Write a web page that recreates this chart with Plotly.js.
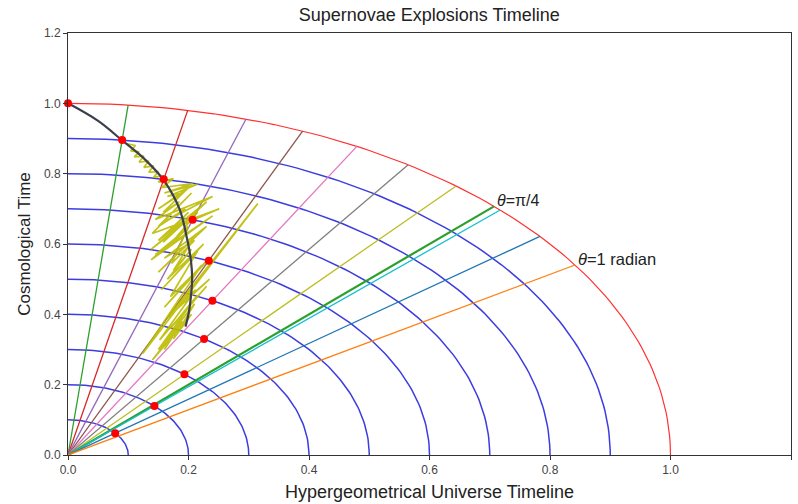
<!DOCTYPE html>
<html>
<head>
<meta charset="utf-8">
<script src="https://cdn.plot.ly/plotly-3.0.1.min.js"></script>
<style>html,body{margin:0;padding:0;background:#fff;}#chart{width:798px;height:504px;}</style>
</head>
<body>
<div id="chart"></div>
<script>
// ---- data ----
const circleRadii = [0.1, 0.2, 0.3, 0.4, 0.5, 0.6, 0.7, 0.8, 0.9];
const outerRadius = 1.0;
const rayAngles = [0.1, 0.2, 0.3, 0.4, 0.5, 0.6, 0.7, Math.PI / 4, 0.8, 0.9, 1.0];
const rayColors = ['#2ca02c', '#d62728', '#9467bd', '#8c564b', '#e377c2', '#7f7f7f', '#bcbd22', '#2ca02c', '#17becf', '#1f77b4', '#ff7f0e'];
const rayWidths = [1.3, 1.3, 1.3, 1.3, 1.3, 1.3, 1.3, 2.2, 1.3, 1.3, 1.3];
// red dots: (radius, angle from the vertical axis)
const dotRadii = [1.0, 0.9, 0.8, 0.7, 0.6, 0.5, 0.4, 0.3, 0.2, 0.1];
const dotAngles = [0.0, 0.1, 0.2, 0.3, 0.4, 0.5, 0.6, 0.7, 0.8, 0.9];
// dark timeline curve
const curveX = [0.000, 0.050, 0.091, 0.128, 0.159, 0.185, 0.197, 0.204, 0.206, 0.204, 0.200, 0.195];
const curveY = [1.000, 0.950, 0.893, 0.840, 0.781, 0.700, 0.620, 0.554, 0.500, 0.450, 0.400, 0.365];
// olive scatter path
const oliveX = [0.098,0.112,0.104,0.118,0.110,0.126,0.118,0.134,0.126,0.142,0.134,0.150,0.142,0.160,0.150,0.175,0.155,0.207,0.160,0.215,
                0.165,0.190,0.150,0.200,0.158,0.185,0.145,0.240,0.162,0.195,0.150,0.205,0.140,0.251,0.170,0.200,0.150,0.230,0.158,0.190,
                0.138,0.215,0.165,0.195,0.145,0.240,0.138,0.200,0.172,0.210,0.160,0.230,0.150,0.210,0.175,0.205,
                0.165,0.225,0.155,0.215,0.170,0.235,0.160,0.222,0.124,0.315,0.165,0.235,0.175,0.212,0.152,0.230,0.170,0.215,0.150,0.210,
                0.175,0.205,0.140,0.190,0.160];
const oliveY = [0.885,0.880,0.865,0.862,0.848,0.850,0.833,0.836,0.818,0.822,0.804,0.806,0.790,0.794,0.776,0.786,0.760,0.772,0.745,0.770,
                0.735,0.745,0.700,0.760,0.690,0.720,0.670,0.735,0.665,0.700,0.650,0.745,0.630,0.700,0.640,0.690,0.610,0.720,0.605,0.660,
                0.585,0.690,0.590,0.640,0.570,0.680,0.555,0.650,0.545,0.610,0.560,0.650,0.520,0.620,0.525,0.585,
                0.500,0.600,0.470,0.580,0.450,0.560,0.420,0.540,0.289,0.715,0.390,0.500,0.410,0.470,0.327,0.480,0.360,0.455,0.300,0.430,
                0.330,0.400,0.270,0.380,0.300];
const xTicks = [0.0, 0.2, 0.4, 0.6, 0.8, 1.0, 1.2];
const yTicks = [0.0, 0.2, 0.4, 0.6, 0.8, 1.0, 1.2];

// ---- traces ----
const traces = [];
function arc(r) {
  const xs = [], ys = [];
  for (let i = 0; i <= 90; i++) {
    const t = (Math.PI / 2) * i / 90;
    xs.push(r * Math.sin(t)); ys.push(r * Math.cos(t));
  }
  return {xs, ys};
}
circleRadii.forEach(r => {
  const a = arc(r);
  traces.push({x: a.xs, y: a.ys, mode: 'lines', line: {color: '#3c3ce0', width: 1.5}, hoverinfo: 'skip'});
});
{
  const a = arc(outerRadius);
  traces.push({x: a.xs, y: a.ys, mode: 'lines', line: {color: '#ff3030', width: 1.2}, hoverinfo: 'skip'});
}
rayAngles.forEach((t, i) => {
  traces.push({x: [0, outerRadius * Math.sin(t)], y: [0, outerRadius * Math.cos(t)], mode: 'lines',
    line: {color: rayColors[i], width: rayWidths[i]}, hoverinfo: 'skip'});
});
traces.push({x: oliveX, y: oliveY, mode: 'lines', line: {color: '#bcbc00', width: 1.7}, opacity: 0.9, hoverinfo: 'skip'});
traces.push({x: curveX, y: curveY, mode: 'lines', line: {color: '#3b404c', width: 2.2, shape: 'spline'}, hoverinfo: 'skip'});
traces.push({x: dotRadii.map((r, i) => r * Math.sin(dotAngles[i])), y: dotRadii.map((r, i) => r * Math.cos(dotAngles[i])),
  mode: 'markers', marker: {color: '#ff0000', size: 8}, cliponaxis: false, hoverinfo: 'skip'});

const font = {family: 'Liberation Sans, Arial, sans-serif', color: '#222'};
const layout = {
  width: 798, height: 504,
  margin: {l: 68, r: 7, t: 33, b: 49},
  showlegend: false,
  paper_bgcolor: '#fff', plot_bgcolor: '#fff',
  font: font,
  title: {text: 'Supernovae Explosions Timeline', font: {size: 18, family: font.family, color: '#222'}, x: 0.538, xanchor: 'center', y: 0.97, yanchor: 'middle'},
  xaxis: {range: [0, 1.2], tickvals: xTicks, ticktext: xTicks.map(v => v.toFixed(1)), showgrid: false, zeroline: false,
    showline: true, mirror: true, linecolor: '#333', linewidth: 1, ticks: 'outside', ticklen: 4, tickcolor: '#333',
    tickfont: {size: 12, color: '#444'}, automargin: false,
    title: {text: 'Hypergeometrical Universe Timeline', font: {size: 18, color: '#222'}, standoff: 8}},
  yaxis: {range: [0, 1.2], tickvals: yTicks, ticktext: yTicks.map(v => v.toFixed(1)), showgrid: false, zeroline: false,
    showline: true, mirror: true, linecolor: '#333', linewidth: 1, ticks: 'outside', ticklen: 4, tickcolor: '#333',
    tickfont: {size: 12, color: '#444'}, automargin: false,
    title: {text: 'Cosmological Time', font: {size: 17, color: '#222'}, standoff: 8}},
  annotations: [
    {x: Math.SQRT1_2, y: Math.SQRT1_2, xref: 'x', yref: 'y', text: '<i>θ</i>=π/4', showarrow: false, xanchor: 'left', yanchor: 'bottom', xshift: 1, yshift: -5, font: {size: 16, color: '#222'}},
    {x: Math.sin(1), y: Math.cos(1), xref: 'x', yref: 'y', text: '<i>θ</i>=1 radian', showarrow: false, xanchor: 'left', yanchor: 'bottom', xshift: 1, yshift: -5, font: {size: 16.5, color: '#222'}}
  ]
};
Plotly.newPlot('chart', traces, layout, {staticPlot: true});
</script>
</body>
</html>
